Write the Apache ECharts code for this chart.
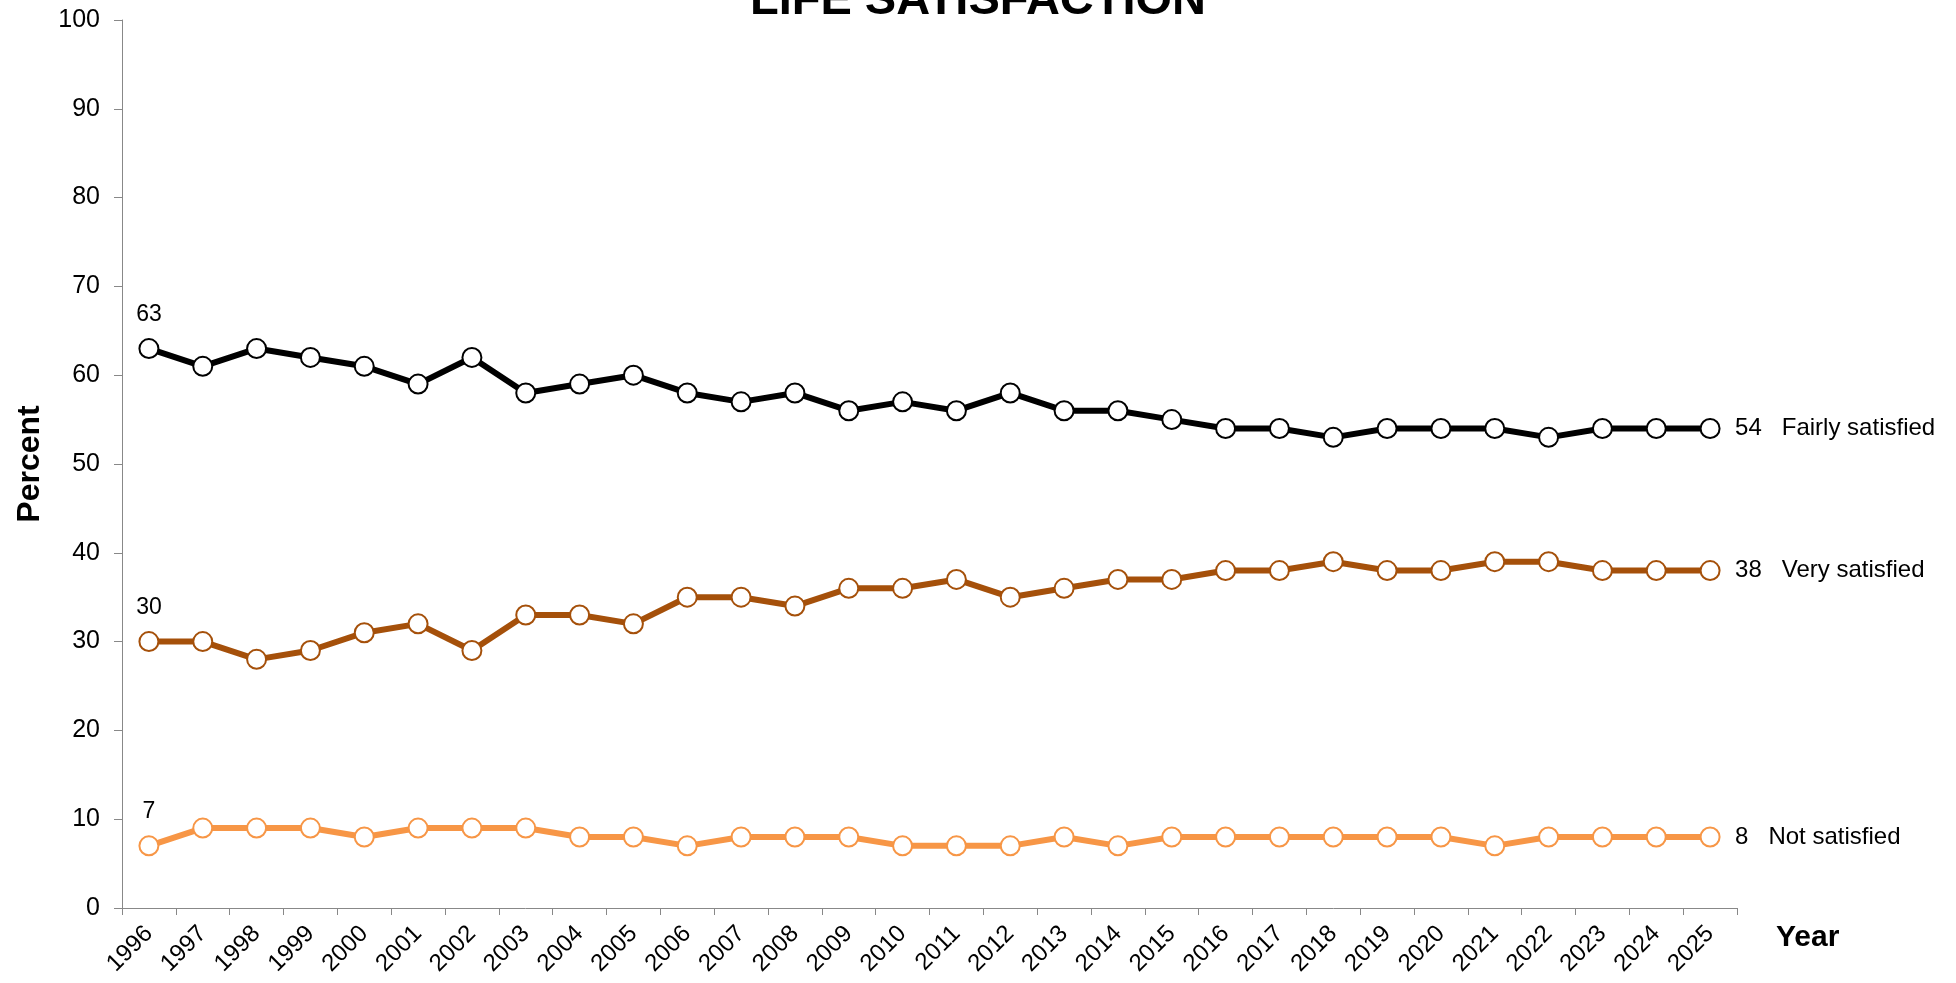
<!DOCTYPE html>
<html>
<head>
<meta charset="utf-8">
<script src="https://cdn.jsdelivr.net/npm/echarts@6/dist/echarts.min.js"></script>
<style>
  html, body { margin: 0; padding: 0; background: #fff; }
  #chart { width: 1956px; height: 983px; }
</style>
</head>
<body>
<div id="chart"></div>
<script>
// data
const years = ['1996','1997','1998','1999','2000','2001','2002','2003','2004','2005',
  '2006','2007','2008','2009','2010','2011','2012','2013','2014','2015',
  '2016','2017','2018','2019','2020','2021','2022','2023','2024','2025'];
const fairlySatisfied = [63,61,63,62,61,59,62,58,59,60,58,57,58,56,57,56,58,56,56,55,54,54,53,54,54,54,53,54,54,54];
const verySatisfied = [30,30,28,29,31,32,29,33,33,32,35,35,34,36,36,37,35,36,37,37,38,38,39,38,38,39,39,38,38,38];
const notSatisfied = [7,9,9,9,8,9,9,9,8,8,7,8,8,8,7,7,7,8,7,8,8,8,8,8,8,7,8,8,8,8];
const yTicks = [0,10,20,30,40,50,60,70,80,90,100];

const FONT = '"Liberation Sans", Arial, sans-serif';

// first point gets its value printed above it
function withFirstLabel(values) {
  return values.map((v, i) => i === 0
    ? { value: v, label: { show: true, position: 'top', distance: 12, fontSize: 23, color: '#000', fontFamily: FONT } }
    : v);
}

function makeSeries(name, values, color) {
  return {
    name: name,
    type: 'line',
    data: withFirstLabel(values),
    symbol: 'circle',
    symbolSize: 19,
    lineStyle: { color: color, width: 6 },
    itemStyle: { color: '#fff', borderColor: color, borderWidth: 2 },
    label: { show: false },
    endLabel: {
      show: true,
      distance: 25,
      fontSize: 24,
      color: '#000',
      fontFamily: FONT,
      formatter: p => p.value + '   ' + name
    },
    emphasis: { disabled: true },
    animation: false
  };
}

let myChart = echarts.init(document.getElementById('chart'));
myChart.setOption({
  animation: false,
  textStyle: { fontFamily: FONT, color: '#000' },
  title: {
    text: 'LIFE SATISFACTION',
    left: 'center',
    top: -27,
    textStyle: { fontSize: 47, fontWeight: 'bold', color: '#000', fontFamily: FONT }
  },
  grid: { left: 122, right: 219, top: 20, bottom: 75 },
  xAxis: {
    type: 'category',
    data: years,
    boundaryGap: true,
    axisLine: { lineStyle: { color: '#888', width: 1 } },
    axisTick: { show: true, length: 7, alignWithLabel: false, lineStyle: { color: '#888' } },
    axisLabel: { interval: 0, rotate: 45, fontSize: 24, margin: 22, color: '#000', fontFamily: FONT },
    splitLine: { show: false }
  },
  yAxis: {
    type: 'value',
    min: yTicks[0],
    max: yTicks[yTicks.length - 1],
    interval: 10,
    axisLine: { show: true, lineStyle: { color: '#888', width: 1 } },
    axisTick: { show: true, length: 8, lineStyle: { color: '#888' } },
    axisLabel: { fontSize: 25, margin: 22, color: '#000', fontFamily: FONT },
    splitLine: { show: false }
  },
  graphic: [
    {
      type: 'text',
      x: 30, y: 464,
      rotation: Math.PI / 2,
      style: { text: 'Percent', font: 'bold 32px ' + FONT, fill: '#000', align: 'center', verticalAlign: 'middle' }
    },
    {
      type: 'text',
      x: 1776, y: 938,
      style: { text: 'Year', font: 'bold 30px ' + FONT, fill: '#000', align: 'left', verticalAlign: 'middle' }
    }
  ],
  series: [
    makeSeries('Fairly satisfied', fairlySatisfied, '#000000'),
    makeSeries('Very satisfied', verySatisfied, '#A5500A'),
    makeSeries('Not satisfied', notSatisfied, '#F79646')
  ]
});
</script>
</body>
</html>
